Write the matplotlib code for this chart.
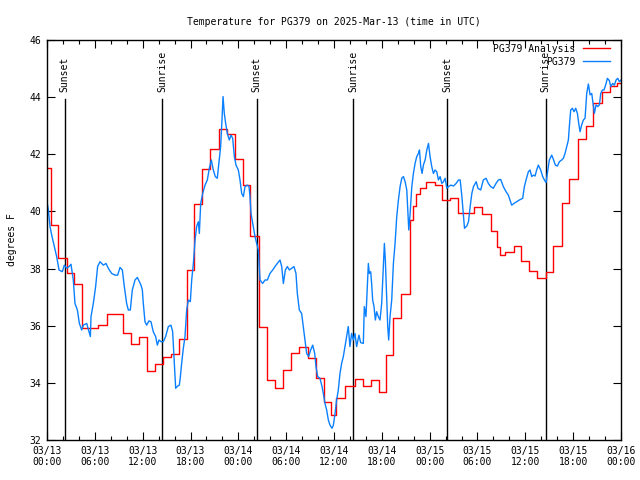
#!/usr/bin/env python3
"""Temperature for PG379: analysis (stepped) vs observation, 3 days in UTC."""

from datetime import datetime, timedelta

import matplotlib
matplotlib.use("Agg")
import matplotlib.pyplot as plt

START = datetime(2025, 3, 13, 0, 0)

# analysis: hours since start at which the value changes, and the new value
analysis_hours = [
    0.0, 0.5, 1.4, 2.47, 3.43, 4.39, 6.4, 7.5, 9.5, 10.5, 11.6, 12.5, 13.5,
    14.5, 15.6, 16.6, 17.6, 18.5, 19.5, 20.5, 21.6, 22.6, 23.6, 24.6, 25.5,
    26.6, 27.6, 28.6, 29.6, 30.6, 31.6, 32.7, 33.7, 34.7, 35.6, 36.3, 37.4,
    38.6, 39.6, 40.6, 41.6, 42.5, 43.4, 44.4, 45.5, 45.9, 46.3, 46.8, 47.5,
    48.7, 49.5, 50.6, 51.5, 53.6, 54.6, 55.7, 56.5, 56.8, 57.5, 58.6, 59.5,
    60.5, 61.5, 62.6, 63.5, 64.6, 65.5, 66.6, 67.6, 68.5, 69.6, 70.6, 71.5,
    72.0,
]
analysis_temps = [
    41.51, 39.52, 38.36, 37.86, 37.45, 35.91, 36.02, 36.40, 35.76, 35.36,
    35.60, 34.41, 34.65, 34.89, 35.00, 35.52, 37.95, 40.26, 41.47, 42.17,
    42.87, 42.70, 41.82, 40.91, 39.14, 35.94, 34.10, 33.81, 34.45, 35.03,
    35.27, 34.86, 34.16, 33.34, 32.87, 33.46, 33.89, 34.12, 33.89, 34.10,
    33.69, 34.96, 36.27, 37.11, 39.70, 40.20, 40.60, 40.81, 41.04, 40.93,
    40.40, 40.46, 39.93, 40.15, 39.91, 39.31, 38.74, 38.48, 38.59, 38.79,
    38.27, 37.91, 37.66, 37.87, 38.79, 40.28, 41.12, 42.55, 42.99, 43.81,
    44.19, 44.39, 44.48, 44.48,
]

obs_hours = [
    0.0, 0.17, 0.38, 0.59, 0.92, 1.21, 1.51, 1.92, 2.17, 2.47, 2.76, 3.01,
    3.3, 3.51, 3.81, 4.06, 4.35, 4.56, 4.98, 5.27, 5.44, 5.52, 5.81, 6.1,
    6.35, 6.65, 7.07, 7.4, 7.69, 8.11, 8.53, 8.86, 9.16, 9.45, 9.7, 9.99,
    10.2, 10.45, 10.7, 11.04, 11.33, 11.58, 11.79, 11.96, 12.08, 12.29, 12.5,
    12.79, 13.04, 13.33, 13.63, 13.84, 14.05, 14.3, 14.59, 14.88, 15.22,
    15.55, 15.76, 15.97, 16.14, 16.39, 16.6, 16.73, 16.89, 17.1, 17.31,
    17.52, 17.73, 17.98,
    18.15, 18.36, 18.57, 18.77, 18.98, 19.11, 19.28, 19.53, 19.82, 20.11,
    20.36, 20.61, 20.86, 21.11, 21.36, 21.61, 21.78, 21.95, 22.08, 22.24,
    22.41, 22.62, 22.87, 23.08, 23.29, 23.5, 23.71, 24.0, 24.21, 24.42,
    24.63, 24.84, 25.13, 25.34, 25.46, 25.59, 25.8, 26.09, 26.3, 26.51,
    26.72, 27.05, 27.35, 27.64, 27.97, 28.31, 28.6, 28.89, 29.23, 29.44,
    29.65, 29.9, 30.15, 30.4, 30.69, 30.98, 31.23, 31.4, 31.65, 31.94,
    32.15, 32.36, 32.57, 32.82, 33.07, 33.33, 33.58, 33.74, 33.95, 34.24,
    34.5, 34.66, 34.87, 35.08, 35.29, 35.5, 35.75, 35.92, 36.13, 36.33,
    36.54,
    36.75, 36.96, 37.17, 37.38, 37.58, 37.79, 38.0, 38.21, 38.42, 38.63,
    38.84, 39.13, 39.34, 39.68, 39.8, 40.01, 40.18, 40.31, 40.43, 40.6,
    40.72, 40.85, 41.02, 41.19, 41.35, 41.56, 41.77, 41.98, 42.19, 42.32,
    42.44, 42.61, 42.74, 42.86, 43.03, 43.24, 43.45, 43.66, 43.87, 44.08,
    44.29, 44.5, 44.71, 44.92, 45.13, 45.25, 45.38, 45.55, 45.76, 45.96,
    46.17, 46.38, 46.59, 46.72, 46.88, 47.05, 47.22, 47.43, 47.64, 47.85,
    48.05, 48.26, 48.47, 48.68, 48.89, 49.1, 49.31, 49.52, 49.73, 49.94,
    50.15, 50.36, 50.65, 50.99, 51.32, 51.62, 51.83, 52.04, 52.25, 52.37,
    52.66, 52.87, 53.08, 53.29, 53.5, 53.84, 54.05,
    54.4, 54.73, 55.07, 55.36, 55.65, 55.99, 56.32, 56.62, 56.91, 57.24,
    57.58, 57.87, 58.08, 58.29, 58.58, 58.91, 59.25, 59.67, 59.88, 60.09,
    60.38, 60.59, 60.8, 61.01, 61.22, 61.42, 61.63, 61.93, 62.18, 62.43,
    62.6, 62.76, 63.01, 63.31, 63.52, 63.77, 64.02, 64.27, 64.56, 64.77,
    64.98, 65.19, 65.4, 65.52, 65.69, 65.9, 66.11, 66.32, 66.53, 66.7,
    66.86, 67.07, 67.28, 67.49, 67.7, 67.91, 68.12, 68.33, 68.54, 68.66,
    68.87, 69.08, 69.29, 69.46, 69.67, 69.87, 70.13, 70.29, 70.54, 70.71,
    70.96, 71.17, 71.38, 71.59, 71.8, 72.0,
]
obs_temps = [
    40.34, 40.05, 39.47, 39.17, 38.77, 38.42, 37.95, 37.89, 38.12, 38.01,
    38.07, 38.15, 37.6, 36.78, 36.55, 36.08, 35.85, 36.02, 36.08, 35.79,
    35.62, 36.32, 36.78, 37.37, 38.07, 38.24, 38.12, 38.18, 38.01, 37.83,
    37.77, 37.77, 38.04, 37.95, 37.37, 36.78, 36.55, 36.55, 37.25, 37.6,
    37.69, 37.54, 37.42, 37.25, 36.78, 36.14, 36.02, 36.17, 36.14, 35.79,
    35.62, 35.32, 35.5, 35.44, 35.44, 35.62, 35.97, 36.02, 35.79, 34.68,
    33.81, 33.89, 33.92, 34.22, 34.68, 35.21, 35.62, 36.55, 36.9, 36.84,
    37.6, 38.18, 39.0, 39.47, 39.64, 39.23, 40.28, 40.63, 40.92, 41.1,
    41.51, 41.8, 41.45, 41.22, 41.16, 41.8, 42.27, 43.2, 44.02, 43.43,
    43.08, 42.73, 42.5, 42.67, 42.56, 41.92, 41.62, 41.45, 41.1, 40.63,
    40.52, 40.87, 40.92, 40.87, 40.52, 39.93, 39.58, 39.12, 38.88, 38.65,
    37.6, 37.48, 37.6, 37.6, 37.83, 37.95, 38.07, 38.18, 38.3, 38.07,
    37.48, 37.95, 38.07, 37.95, 38.01, 38.07, 37.83, 37.13, 36.55, 36.43,
    35.97, 35.5, 35.03, 34.92, 35.15, 35.32, 35.03, 34.57, 34.22, 34.16,
    33.87, 33.63, 33.28, 33.05, 32.7, 32.52, 32.41, 32.52, 32.93, 33.4,
    33.75,
    34.33, 34.68, 34.92, 35.27, 35.62, 35.97, 35.27, 35.73, 35.5, 35.73,
    35.27, 35.67, 35.41, 35.38, 36.67, 36.32, 37.37, 38.18, 37.83, 37.89,
    37.48, 36.9, 36.67, 36.2, 36.49, 36.32, 36.2, 36.78, 38.07, 38.88,
    38.3, 37.02, 35.97, 35.5, 36.32, 36.9, 38.18, 38.88, 39.82, 40.4,
    40.87, 41.16, 41.22, 41.04, 40.75, 40.05, 39.35, 39.93, 40.87, 41.33,
    41.68, 41.92, 42.03, 42.15, 41.57, 41.33, 41.63, 41.8, 42.15, 42.38,
    41.92, 41.57, 41.33, 41.45, 41.39, 41.1, 41.22, 40.98, 41.04, 41.16,
    40.81, 40.87, 40.92, 40.89, 40.98, 41.1, 41.1, 40.52, 39.82, 39.41,
    39.49, 39.64, 40.17, 40.63, 40.87, 41.04, 40.81,
    40.75, 41.1, 41.16, 40.98, 40.87, 40.81, 40.98, 41.1, 41.12, 40.87,
    40.69, 40.57, 40.4, 40.22, 40.28, 40.34, 40.4, 40.46, 40.87, 41.1,
    41.39, 41.45, 41.22, 41.27, 41.24, 41.45, 41.62, 41.45, 41.22, 41.08,
    41.01, 41.33, 41.8, 41.97, 41.82, 41.62, 41.59, 41.74, 41.8, 41.86,
    42.03, 42.27, 42.5, 42.97, 43.55, 43.61, 43.49, 43.61, 43.43, 43.08,
    42.79, 43.03, 43.2, 43.26, 44.13, 44.46, 44.08, 44.13, 43.67, 43.43,
    43.73, 43.67, 43.73, 44.13, 44.25, 44.25, 44.48, 44.66, 44.58, 44.37,
    44.48, 44.42, 44.6, 44.66, 44.54, 44.6,
]

sun_hours = [2.2, 14.45, 26.3, 38.43, 50.2, 62.55]
sun_labels = ["Sunset", "Sunrise", "Sunset", "Sunrise", "Sunset", "Sunrise"]

FONT = "DejaVu Sans Mono"
FS = 7

plt.rcParams["font.family"] = FONT
plt.rcParams["font.size"] = FS

fig = plt.figure(figsize=(6.4, 4.8), dpi=100)
ax = fig.add_axes([47 / 640, 40 / 480, 574 / 640, 400 / 480])

# sunrise / sunset markers: line starts a bit below the label
for h, lab in zip(sun_hours, sun_labels):
    ax.axvline(h, ymin=0, ymax=(440 - 99) / 400, color="black", lw=1.0, zorder=1)
    ax.text(h, 46 - (92 - 40) / 28.571, lab, rotation=90, ha="center",
            va="bottom", fontsize=FS, zorder=3)

ax.plot(analysis_hours, analysis_temps, drawstyle="steps-post", color="#ff0000",
        lw=1.0, label="PG379 Analysis", zorder=2)
ax.plot(obs_hours, obs_temps, color="#0a80ff", lw=1.0, label="PG379", zorder=2)

ax.set_xlim(0, 72)
ax.set_ylim(32, 46)

xt = list(range(0, 73, 6))
ax.set_xticks(xt)
ax.set_xticklabels([(START + timedelta(hours=h)).strftime("%m/%d\n%H:%M") for h in xt])
ax.set_xticks(list(range(0, 73, 2)), minor=True)
ax.set_yticks(range(32, 47, 2))

ax.tick_params(axis="both", which="both", direction="in", top=True, right=True,
               labelsize=FS, width=0.8, pad=4)
ax.tick_params(axis="both", which="major", length=6)
ax.tick_params(axis="x", which="minor", length=3)
for s in ax.spines.values():
    s.set_linewidth(1.0)

ax.set_ylabel("degrees F", fontsize=FS, labelpad=9)
ax.set_title("Temperature for PG379 on 2025-Mar-13 (time in UTC)", fontsize=FS, pad=11)

ax.legend(loc="upper right", bbox_to_anchor=(1.0, 1.0 + 7 / 400), frameon=False,
          markerfirst=False, fontsize=FS, handlelength=2.8, handletextpad=0.8,
          labelspacing=0.3, borderaxespad=0.7)

fig.savefig("out.png", dpi=100)
